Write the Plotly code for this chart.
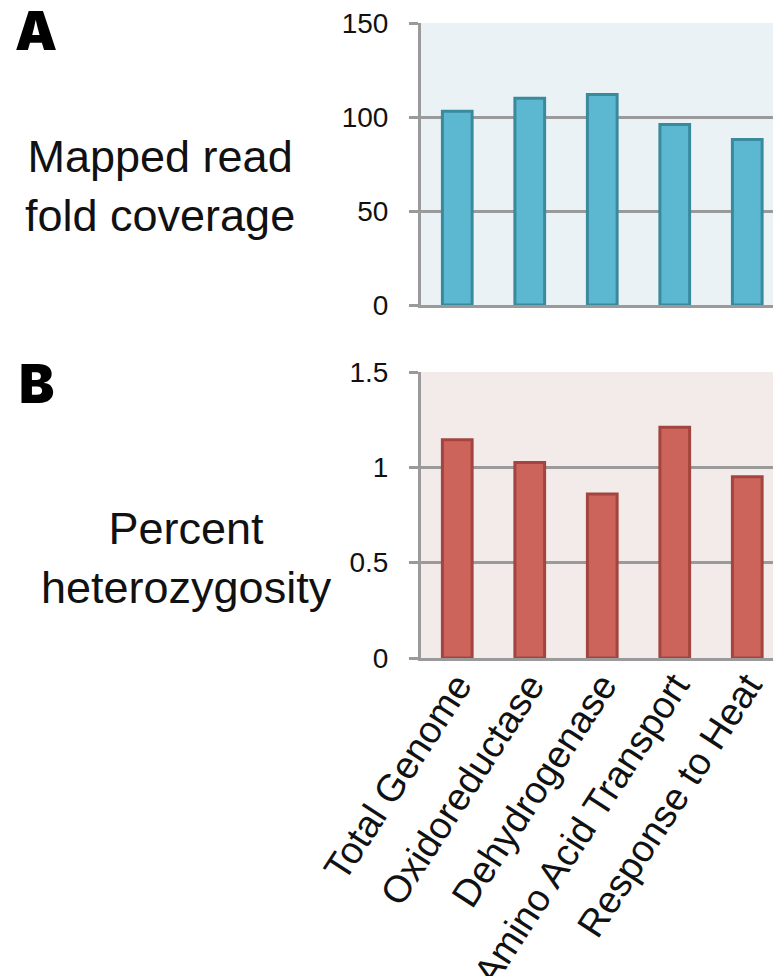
import plotly.graph_objects as go
from plotly.subplots import make_subplots

categories = ["Total Genome", "Oxidoreductase", "Dehydrogenase", "Amino Acid Transport", "Response to Heat"]
coverage = [103, 110, 112, 96, 88]
heterozygosity = [1.145, 1.025, 0.86, 1.21, 0.95]
cov_ticks = [0, 50, 100, 150]
het_ticks = [0, 0.5, 1, 1.5]
het_ticklabels = ["0", "0.5", "1", "1.5"]

W, H = 773, 976
L, R, T, B = 421, 0, 23, 318
PH = H - T - B
PW = W - L - R

def py(p):
    return (H - B - p) / PH

def px(p):
    return (p - L) / PW

fig = make_subplots(rows=2, cols=1, shared_xaxes=False, vertical_spacing=0.0)

fig.add_trace(go.Bar(x=categories, y=coverage, width=0.41,
                     marker=dict(color="#5BB8D0", line=dict(color="#3A8A9E", width=3)),
                     showlegend=False), row=1, col=1)
fig.add_trace(go.Bar(x=categories, y=heterozygosity, width=0.41,
                     marker=dict(color="#CC645C", line=dict(color="#A3443E", width=3)),
                     showlegend=False), row=2, col=1)

grid = "#9A9A9A"
tickfont = dict(family="Liberation Sans, Arial", size=28, color="#111111")
xr = [-0.5, 4.355]

fig.update_layout(
    width=W, height=H,
    margin=dict(l=L, r=R, t=T, b=B, autoexpand=False),
    paper_bgcolor="white",
    font=dict(family="Liberation Sans, Arial", color="#111111"),
    xaxis=dict(domain=[0, 1], anchor="y", range=xr, showticklabels=False, ticks="",
               showgrid=False, showline=True, linecolor=grid, linewidth=3, automargin=False),
    yaxis=dict(domain=[py(305), py(23)], anchor="x", range=[0, 150], tickvals=cov_ticks,
               ticks="outside", ticklen=9, tickwidth=3, tickcolor=grid,
               showgrid=True, gridcolor=grid, gridwidth=3, zeroline=False,
               showline=True, linecolor=grid, linewidth=3, tickfont=tickfont,
               ticklabelstandoff=15, automargin=False),
    xaxis2=dict(domain=[0, 1], anchor="y2", range=xr, tickangle=-57, ticks="",
                tickfont=dict(family="Liberation Sans, Arial", size=38, color="#111111"),
                ticklabelstandoff=-13, automargin=False,
                showgrid=False, showline=True, linecolor=grid, linewidth=3),
    yaxis2=dict(domain=[0, py(372)], anchor="x2", range=[0, 1.5], tickvals=het_ticks,
                ticktext=het_ticklabels,
                ticks="outside", ticklen=9, tickwidth=3, tickcolor=grid,
                showgrid=True, gridcolor=grid, gridwidth=3, zeroline=False,
                showline=True, linecolor=grid, linewidth=3, tickfont=tickfont,
                ticklabelstandoff=15, automargin=False),
    plot_bgcolor="white",
)

# panel backgrounds
fig.add_shape(type="rect", xref="x domain", yref="y domain", x0=0, x1=1, y0=0, y1=1,
              fillcolor="#EAF2F6", line_width=0, layer="below")
fig.add_shape(type="rect", xref="x2 domain", yref="y2 domain", x0=0, x1=1, y0=0, y1=1,
              fillcolor="#F3EAEA", line_width=0, layer="below")

titlefont = dict(family="Liberation Sans, Arial", size=45, color="#111111")
fig.add_annotation(text="Mapped read<br>fold coverage", xref="paper", yref="paper",
                   x=px(160), y=py(186), xanchor="center", yanchor="middle",
                   showarrow=False, font=titlefont, align="center")
fig.add_annotation(text="Percent<br>heterozygosity", xref="paper", yref="paper",
                   x=px(186), y=py(558), xanchor="center", yanchor="middle",
                   showarrow=False, font=titlefont, align="center")

letterfont = dict(family="Arial Black, Inter, DejaVu Sans", size=53, color="black", weight=900)
fig.add_annotation(text="A", xref="paper", yref="paper", x=px(36), y=py(31),
                   xanchor="center", yanchor="middle", showarrow=False, font=letterfont)
fig.add_annotation(text="B", xref="paper", yref="paper", x=px(36.5), y=py(384),
                   xanchor="center", yanchor="middle", showarrow=False, font=letterfont)

fig.write_html("out.html")
